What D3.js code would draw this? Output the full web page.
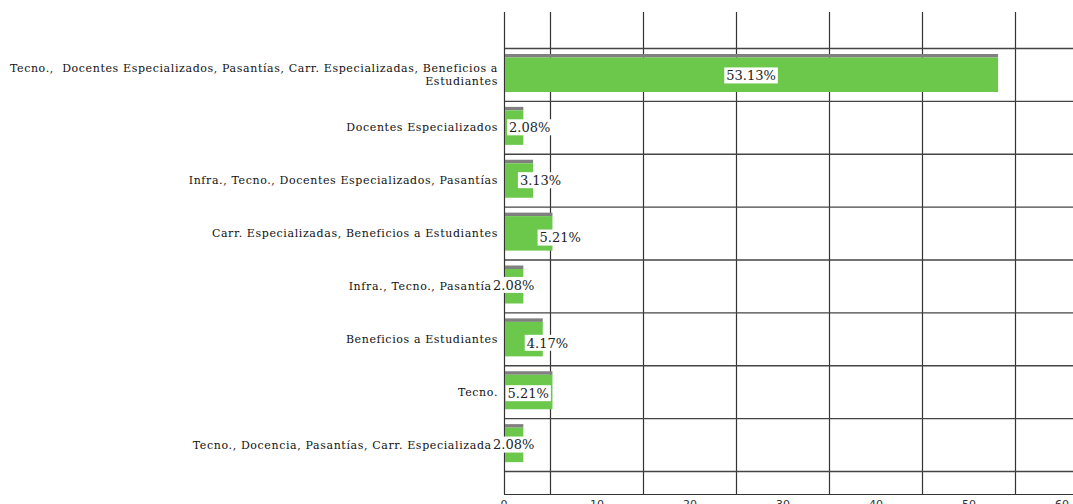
<!DOCTYPE html>
<html>
<head>
<meta charset="utf-8">
<script src="https://cdn.jsdelivr.net/npm/d3@7"></script>
<style>
  body { margin: 0; background: #fff; }
  svg { display: block; }
</style>
</head>
<body>
<div id="chart"></div>
<script>
// Data
var categories = [
  "Tecno.,  Docentes Especializados, Pasantías, Carr. Especializadas, Beneficios a Estudiantes",
  "Docentes Especializados",
  "Infra., Tecno., Docentes Especializados, Pasantías",
  "Carr. Especializadas, Beneficios a Estudiantes",
  "Infra., Tecno., Pasantías",
  "Beneficios a Estudiantes",
  "Tecno.",
  "Tecno., Docencia, Pasantías, Carr. Especializadas"
];
var percents = [53.13, 2.08, 3.13, 5.21, 2.08, 4.17, 5.21, 2.08];
var xTicks = [0, 10, 20, 30, 40, 50, 60];
var xGrid = [5, 15, 25, 35, 45, 55];

// SVG wrapper
var svgWidth = 1073;
var svgHeight = 504;

var svg = d3.select("#chart")
  .append("svg")
  .attr("width", svgWidth)
  .attr("height", svgHeight);

// Scales
var xScale = d3.scaleLinear()
  .domain([0, 60])
  .range([504, 1062]);

var yScale = d3.scaleBand()
  .domain(categories)
  .range([48, 471]);

var plotTop = 12, plotBottom = 494;

// Vertical grid lines (at 5, 15, 25 ...)
svg.selectAll(".vgrid")
  .data(xGrid)
  .enter()
  .append("line")
  .attr("x1", d => xScale(d))
  .attr("x2", d => xScale(d))
  .attr("y1", plotTop)
  .attr("y2", plotBottom)
  .attr("stroke", "#333")
  .attr("stroke-width", 1.2);

// Horizontal lines between categories
var bounds = categories.map(c => yScale(c)).concat([yScale.range()[1]]);
svg.selectAll(".hgrid")
  .data(bounds)
  .enter()
  .append("line")
  .attr("x1", xScale(0))
  .attr("x2", svgWidth)
  .attr("y1", d => d + 0.5)
  .attr("y2", d => d + 0.5)
  .attr("stroke", "#444")
  .attr("stroke-width", 1.3);

// Axis lines
svg.append("line")
  .attr("x1", xScale(0) + 0.5).attr("x2", xScale(0) + 0.5)
  .attr("y1", plotTop).attr("y2", plotBottom)
  .attr("stroke", "#333").attr("stroke-width", 1.2);
svg.append("line")
  .attr("x1", xScale(0)).attr("x2", svgWidth)
  .attr("y1", plotBottom + 0.5).attr("y2", plotBottom + 0.5)
  .attr("stroke", "#333").attr("stroke-width", 1.2);

// X tick labels (mostly cut off by the bottom edge)
svg.selectAll(".xtick")
  .data(xTicks)
  .enter()
  .append("text")
  .attr("x", d => xScale(d))
  .attr("y", 508)
  .attr("text-anchor", "middle")
  .attr("font-family", "DejaVu Sans, sans-serif")
  .attr("font-size", 11)
  .attr("fill", "#333")
  .text(d => d);

// Category labels
var catLabels = svg.selectAll(".cat")
  .data(categories)
  .enter()
  .append("text")
  .attr("x", xScale(0) - 6)
  .attr("y", d => yScale(d) + yScale.bandwidth() / 2)
  .attr("text-anchor", "end")
  .attr("font-family", "DejaVu Serif, serif")
  .attr("font-size", 11)
  .attr("letter-spacing", 0.62)
  .attr("fill", "#111");

catLabels.each(function(d) {
  var t = d3.select(this);
  // the long first label wraps onto two lines
  var lines = d.length > 60 ? [d.slice(0, d.lastIndexOf(" ")), d.slice(d.lastIndexOf(" ") + 1)] : [d];
  var lineH = 13;
  lines.forEach(function(l, i) {
    t.append("tspan")
      .attr("x", xScale(0) - 6)
      .attr("dy", i === 0 ? (-(lines.length - 1) * lineH / 2 + 4) : lineH)
      .attr("xml:space", "preserve")
      .style("white-space", "pre")
      .text(l);
  });
});

// Bars: a thin grey strip on top of each green bar
var bars = svg.selectAll(".bar")
  .data(percents)
  .enter()
  .append("g");

bars.append("rect")
  .attr("x", xScale(0) + 1)
  .attr("y", (d, i) => yScale(categories[i]) + 6)
  .attr("width", d => xScale(d) - xScale(0) - 1)
  .attr("height", 3.5)
  .attr("fill", "#808080");

bars.append("rect")
  .attr("x", xScale(0) + 1)
  .attr("y", (d, i) => yScale(categories[i]) + 9.5)
  .attr("width", d => xScale(d) - xScale(0) - 1)
  .attr("height", 34.5)
  .attr("fill", "#6cc84b");

// Value labels: centred on the bar, nudged where the original moved them
var labelNudge = [[0, 1], [16, 0], [22, 0], [32, 4.5], [0, -1], [24, 4], [0, 1.5], [0, 0]];

var labels = svg.selectAll(".val")
  .data(percents)
  .enter()
  .append("g")
  .attr("transform", function(d, i) {
    var cx = Math.max(xScale(d / 2), xScale(0) + 9.5) + labelNudge[i][0];
    var cy = yScale(categories[i]) + yScale.bandwidth() / 2 + labelNudge[i][1];
    return "translate(" + cx + "," + cy + ")";
  });

labels.append("text")
  .attr("text-anchor", "middle")
  .attr("dy", "0.36em")
  .attr("font-family", "DejaVu Serif, serif")
  .attr("font-size", 13)
  .attr("fill", "#222")
  .text(d => d.toFixed(2) + "%");

labels.each(function() {
  var g = d3.select(this);
  var b = g.select("text").node().getBBox();
  g.insert("rect", "text")
    .attr("x", b.x - 2)
    .attr("y", -8)
    .attr("width", b.width + 4)
    .attr("height", 16)
    .attr("fill", "#fff");
});
</script>
</body>
</html>
